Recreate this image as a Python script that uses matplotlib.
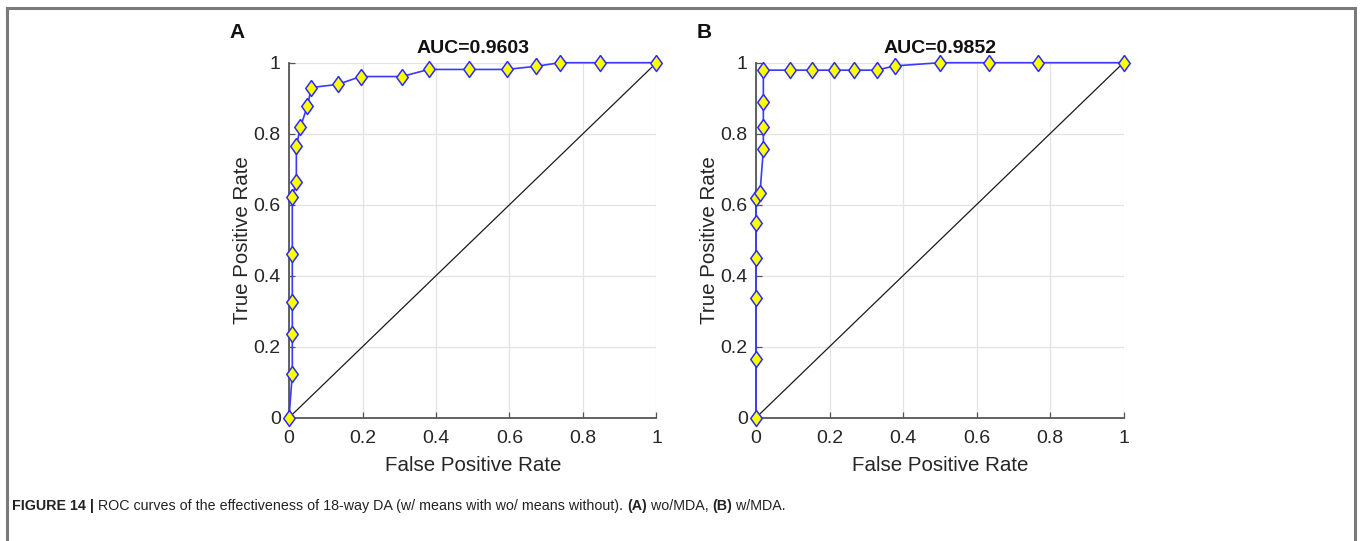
import matplotlib
matplotlib.use("Agg")
import matplotlib.pyplot as plt
from matplotlib.lines import Line2D

# ---- data ----
a_fpr = [0, 0.009, 0.009, 0.009, 0.009, 0.009, 0.02, 0.02, 0.031, 0.05, 0.061,
         0.133, 0.195, 0.307, 0.38, 0.49, 0.592, 0.673, 0.737, 0.846, 1.0]
a_tpr = [0, 0.123, 0.235, 0.326, 0.46, 0.623, 0.663, 0.765, 0.818, 0.878, 0.93,
         0.939, 0.961, 0.961, 0.981, 0.981, 0.981, 0.99, 1.0, 1.0, 1.0]
b_fpr = [0, 0, 0, 0, 0, 0, 0.011, 0.02, 0.02, 0.02, 0.02, 0.093, 0.153, 0.213,
         0.266, 0.328, 0.378, 0.501, 0.634, 0.766, 1.0]
b_tpr = [0, 0.164, 0.336, 0.449, 0.549, 0.62, 0.634, 0.756, 0.818, 0.89, 0.979,
         0.979, 0.979, 0.979, 0.979, 0.979, 0.991, 1.0, 1.0, 1.0, 1.0]
panel_labels = ["A", "B"]
auc_titles = ["AUC=0.9603", "AUC=0.9852"]
ticks = [0, 0.2, 0.4, 0.6, 0.8, 1]
tick_labels = ["0", "0.2", "0.4", "0.6", "0.8", "1"]
xlabel = "False Positive Rate"
ylabel = "True Positive Rate"
caption_parts = [("FIGURE 14 |", "bold"),
                 (" ROC curves of the effectiveness of 18-way DA (w/ means with wo/ means without). ", "normal"),
                 ("(A)", "bold"), (" wo/MDA, ", "normal"), ("(B)", "bold"), (" w/MDA.", "normal")]

plt.rcParams['font.family'] = ['Liberation Sans', 'DejaVu Sans']

W, H = 1360, 541
fig = plt.figure(figsize=(W / 100, H / 100), dpi=100)

# frame around figure
frame_col = '#7a7a7a'
for xs, ys in [([7, 7], [0, H - 8]), ([7, 1355], [H - 8, H - 8]), ([1355, 1355], [H - 8, 0])]:
    fig.add_artist(Line2D([x / W for x in xs], [y / H for y in ys], color=frame_col,
                          lw=2.2, transform=fig.transFigure))

diamond = [(0, 1), (0.72, 0), (0, -1), (-0.72, 0), (0, 1)]

axes_left_px = [289, 756]
data = [(a_fpr, a_tpr), (b_fpr, b_tpr)]
for i in range(2):
    lx = axes_left_px[i]
    ax = fig.add_axes([lx / W, 1 - 417.7 / H, 367.5 / W, 355 / H])
    fpr, tpr = data[i]
    ax.plot([0, 1], [0, 1], color='#1a1a1a', lw=0.9, zorder=2, clip_on=False)
    ax.plot(fpr, tpr, color='#3a3aff', lw=1.2, marker=diamond, markersize=11.5,
            markerfacecolor='#ffff00', markeredgecolor='#2b2bff', markeredgewidth=1.1,
            zorder=3, clip_on=False)
    ax.set_xlim(0, 1)
    ax.set_ylim(0, 1)
    ax.set_xticks(ticks)
    ax.set_yticks(ticks)
    ax.set_xticklabels(tick_labels)
    ax.set_yticklabels(tick_labels)
    ax.grid(True, color='#e3e3e3', lw=0.9)
    ax.set_axisbelow(True)
    for s in ['top', 'right']:
        ax.spines[s].set_visible(False)
    for s in ['left', 'bottom']:
        ax.spines[s].set_color('#555555')
        ax.spines[s].set_linewidth(1.3)
    ax.tick_params(direction='in', length=4, width=0.9, color='#555555',
                   labelsize=14, labelcolor='#262626')
    ax.tick_params(axis='x', pad=9)
    ax.tick_params(axis='y', pad=6)
    ax.set_xlabel(xlabel, fontsize=14.8, color='#262626', labelpad=6)
    ax.set_ylabel(ylabel, fontsize=14.8, color='#262626', labelpad=1)
    ax.set_title(auc_titles[i], fontsize=14, fontweight='bold', color='#111111', pad=7)
    fig.text((lx - 52) / W, 1 - 33 / H, panel_labels[i], fontsize=15, fontweight='bold',
             ha='center', va='center', color='#111111')

# caption with mixed weights
renderer = fig.canvas.get_renderer()
x = 12 / W
cap_fam = ['Liberation Sans Narrow', 'Liberation Sans', 'DejaVu Sans']
for txt, wt in caption_parts:
    t = fig.text(x, 1 - 506 / H, txt, fontsize=10.3, fontweight=wt, family=cap_fam,
                 ha='left', va='center', color='#222222')
    bb = t.get_window_extent(renderer=renderer)
    x = bb.x1 / W

fig.savefig("out.png", dpi=100)
